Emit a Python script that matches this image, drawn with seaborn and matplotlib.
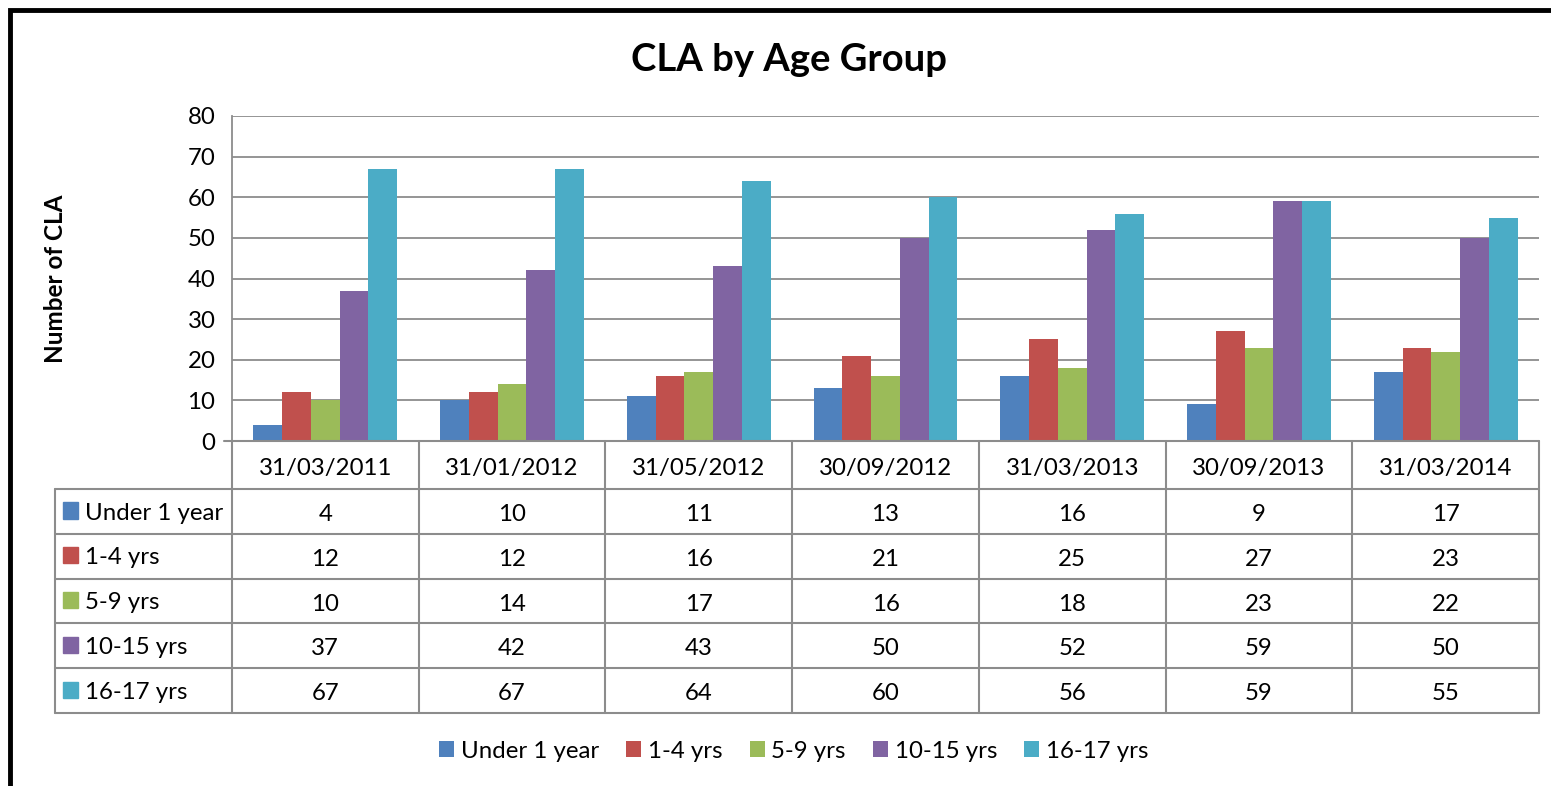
import numpy as np
import pandas as pd
import matplotlib
matplotlib.use("Agg")
import matplotlib.pyplot as plt
import seaborn as sns
from matplotlib.patches import Rectangle

# data
dates = ["31/03/2011", "31/01/2012", "31/05/2012", "30/09/2012",
         "31/03/2013", "30/09/2013", "31/03/2014"]
groups = ["Under 1 year", "1-4 yrs", "5-9 yrs", "10-15 yrs", "16-17 yrs"]
under_1 = [4, 10, 11, 13, 16, 9, 17]
yrs_1_4 = [12, 12, 16, 21, 25, 27, 23]
yrs_5_9 = [10, 14, 17, 16, 18, 23, 22]
yrs_10_15 = [37, 42, 43, 50, 52, 59, 50]
yrs_16_17 = [67, 67, 64, 60, 56, 59, 55]
y_ticks = [0, 10, 20, 30, 40, 50, 60, 70, 80]

colors = ["#4F81BD", "#C0504D", "#9BBB59", "#8064A2", "#4BACC6"]
series = [under_1, yrs_1_4, yrs_5_9, yrs_10_15, yrs_16_17]

df = pd.DataFrame({
    "Date": np.tile(dates, len(groups)),
    "Group": np.repeat(groups, len(dates)),
    "Value": np.concatenate(series),
})

sns.set_style("white")
plt.rcParams["font.family"] = ["Lato", "DejaVu Sans"]
plt.rcParams["text.color"] = "black"
plt.rcParams["axes.labelcolor"] = "black"
plt.rcParams["ytick.labelcolor"] = "black"

W, H = 1551, 786
fig = plt.figure(figsize=(W / 100, H / 100), dpi=100)


def fx(px):
    return px / W


def fy(py):
    return 1 - py / H


grid_c = "#8C8C8C"
fs = 17.3

# bar area
ax = fig.add_axes([fx(232), fy(441), fx(1539) - fx(232), fy(116) - fy(441)])
sns.barplot(data=df, x="Date", y="Value", hue="Group", hue_order=groups,
            order=dates, palette=colors, saturation=1, width=0.77, gap=0,
            ax=ax, linewidth=0)
handles, labels = ax.get_legend_handles_labels()
ax.get_legend().remove()
ax.set_xlim(-0.5, len(dates) - 0.5)
ax.set_ylim(0, 80)
ax.set_yticks(y_ticks)
ax.yaxis.grid(True, color=grid_c, lw=1.3)
ax.set_axisbelow(True)
ax.tick_params(axis="y", length=6, width=1.3, color=grid_c, labelsize=fs,
               labelcolor="black", pad=6)
ax.tick_params(axis="x", length=0, labelbottom=False)
ax.set_xlabel("")
ax.set_ylabel("Number of CLA", fontsize=17.5, fontweight="bold", color="black")
ax.yaxis.set_label_coords(-0.126, 0.5)
for s in ["top", "right", "bottom"]:
    ax.spines[s].set_visible(False)
ax.spines["left"].set_color(grid_c)
ax.spines["left"].set_linewidth(1.3)

# data table below
header_h = 1.07
n_rows = len(groups)
ax_t = fig.add_axes([fx(232), fy(713), fx(1539) - fx(232), fy(441) - fy(713)])
ax_t.set_xlim(-0.5, len(dates) - 0.5)
ax_t.set_ylim(n_rows + header_h, 0)
ax_t.axis("off")
label_left = -0.5 - 177 / 186.7
dy = 0.07

lk = dict(color=grid_c, lw=1.5, clip_on=False)
ax_t.plot([-0.5 - 8 / 186.7, len(dates) - 0.5], [0, 0], **lk)
for i in range(n_rows + 1):
    y = header_h + i
    ax_t.plot([label_left, len(dates) - 0.5], [y, y], **lk)
ax_t.plot([label_left, label_left], [header_h, header_h + n_rows], **lk)
for j in range(len(dates) + 1):
    ax_t.plot([j - 0.5, j - 0.5], [0, header_h + n_rows], **lk)

for j, d in enumerate(dates):
    ax_t.text(j, header_h / 2 + dy, d, ha="center", va="center", fontsize=fs)
for i, (g, vals, c) in enumerate(zip(groups, series, colors)):
    yc = header_h + i + 0.5
    ax_t.add_patch(Rectangle((label_left + 8 / 186.7, yc - 0.2), 15 / 186.7, 0.36,
                             color=c, clip_on=False))
    ax_t.text(label_left + 30 / 186.7, yc + dy - 0.03, g, ha="left", va="center",
              fontsize=fs)
    for j, v in enumerate(vals):
        ax_t.text(j, yc + dy, str(v), ha="center", va="center", fontsize=fs)

fig.text(fx(789), fy(60), "CLA by Age Group", ha="center", va="center",
         fontsize=27.5, fontweight="bold")

fig.legend(handles, labels, loc="center", bbox_to_anchor=(fx(794), fy(751)),
           ncol=5, frameon=False, fontsize=fs, handlelength=0.62, handleheight=0.62,
           handletextpad=0.28, columnspacing=1.13)

# outer chart frame
fig.add_artist(Rectangle((fx(9.5), fy(900)), 2, fy(10.5) - fy(900),
                         transform=fig.transFigure, fill=False, ec="black", lw=3.5))

fig.savefig("out.png", dpi=100)
